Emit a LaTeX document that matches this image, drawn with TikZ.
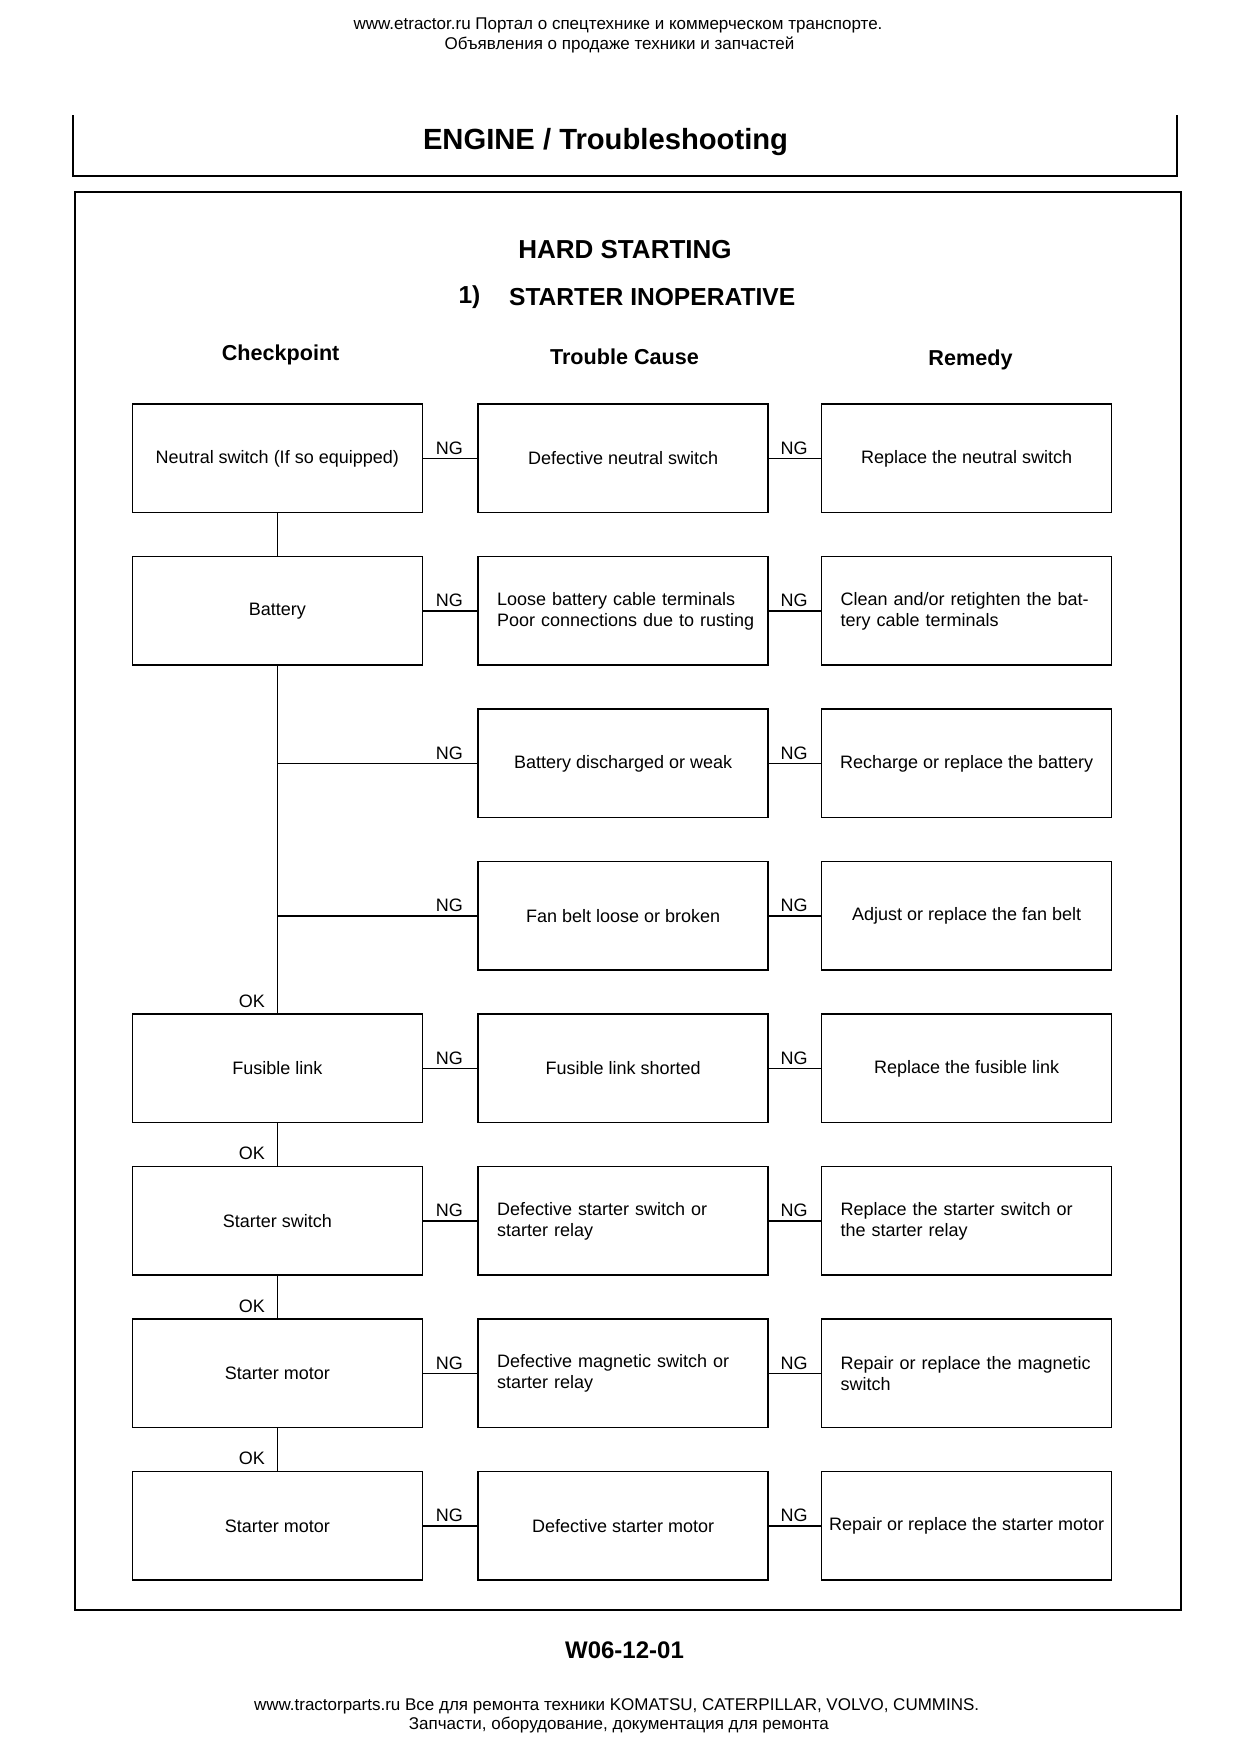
\documentclass[tikz,border=0pt]{standalone}
\usepackage{fontspec}
\setmainfont{Liberation Sans}
\begin{document}
\begin{tikzpicture}[x=0.5pt,y=-0.5pt,
  box/.style={draw, line width=0.7pt, minimum width=145pt, minimum height=54.25pt, inner sep=0pt, align=center, font=\fontsize{9}{10.5}\selectfont},
  boxl/.style={box, align=left, text width=126pt},
  lab/.style={font=\fontsize{9}{10.5}\selectfont, inner sep=0pt, anchor=base},
  oklab/.style={font=\fontsize{9}{10.5}\selectfont, inner sep=0pt, anchor=base east},
  conn/.style={line width=0.7pt},
  frame/.style={line width=1pt},
  hdr/.style={font=\fontsize{8.5}{9.5}\selectfont, align=center, inner sep=0pt},
  colhead/.style={font=\bfseries\fontsize{10.8}{12}\selectfont, inner sep=0pt}
]
\fill[white] (0,0) rectangle (1240,1753);
\useasboundingbox (0,0) rectangle (1240,1753);

% page header / footer
\node[hdr] (top1) at (618,25.7) {www.etractor.ru Портал о спецтехнике и коммерческом транспорте.};
\node[hdr] (top2) at (619.5,44.7) {Объявления о продаже техники и запчастей};
\node[hdr] (bot1) at (616.6,1706.2) {www.tractorparts.ru Все для ремонта техники KOMATSU, CATERPILLAR, VOLVO, CUMMINS.};
\node[hdr] (bot2) at (618.9,1725.2) {Запчасти, оборудование, документация для ремонта};
\node[font=\bfseries\fontsize{12}{14}\selectfont, inner sep=0pt] (code) at (624.5,1650.3) {W06-12-01};

% header box
\draw[frame] (72.7,115) -- (72.7,175.5) -- (1177.4,175.5) -- (1177.4,115);
\node[font=\bfseries\fontsize{14.6}{17}\selectfont, inner sep=0pt] (title) at (605.5,142) {ENGINE / Troubleshooting};

% main frame
\draw[frame] (75,192.3) rectangle (1180.7,1610);
\node[font=\bfseries\fontsize{13}{15}\selectfont, inner sep=0pt] (hs) at (625,249.3) {HARD STARTING};
\node[font=\bfseries\fontsize{12.3}{14}\selectfont, inner sep=0pt, anchor=east] (num) at (480.8,297.5) {1)};
\node[font=\bfseries\fontsize{12.3}{14}\selectfont, inner sep=0pt, anchor=west] (si) at (508.7,297.5) {STARTER INOPERATIVE};

\node[colhead] (h1) at (280.6,354.5) {Checkpoint};
\node[colhead] (h2) at (624.5,356.5) {Trouble Cause};
\node[colhead] (h3) at (970.5,359.5) {Remedy};

% column 1
\node[box] (b1) at (277.3,458.4) {Neutral switch (If so equipped)};
\node[box] (b2) at (277.3,610.9) {Battery};
\node[box] (b5) at (277.3,1068.4) {Fusible link};
\node[box] (b6) at (277.3,1220.9) {Starter switch};
\node[box] (b7) at (277.3,1373.4) {Starter motor};
\node[box] (b8) at (277.3,1525.9) {Starter motor};

% column 2
\node[box] (c1) at (623.1,458.4) {Defective neutral switch};
\node[boxl] (c2) at (623.1,610.9) {\mbox{Loose battery cable terminals}\\\mbox{Poor connections due to rusting}};
\node[box] (c3) at (623.1,763.4) {Battery discharged or weak};
\node[box] (c4) at (623.1,915.9) {Fan belt loose or broken};
\node[box] (c5) at (623.1,1068.4) {Fusible link shorted};
\node[boxl] (c6) at (623.1,1220.9) {\mbox{Defective starter switch or}\\\mbox{starter relay}};
\node[boxl] (c7) at (623.1,1373.4) {\mbox{Defective magnetic switch or}\\\mbox{starter relay}};
\node[box] (c8) at (623.1,1525.9) {Defective starter motor};

% column 3
\node[box] (r1) at (966.6,458.4) {Replace the neutral switch};
\node[boxl] (r2) at (966.6,610.9) {\mbox{Clean and/or retighten the bat-}\\\mbox{tery cable terminals}};
\node[box] (r3) at (966.6,763.4) {Recharge or replace the battery};
\node[box] (r4) at (966.6,915.9) {Adjust or replace the fan belt};
\node[box] (r5) at (966.6,1068.4) {Replace the fusible link};
\node[boxl] (r6) at (966.6,1220.9) {\mbox{Replace the starter switch or}\\\mbox{the starter relay}};
\node[boxl] (r7) at (966.6,1373.4) {\mbox{Repair or replace the magnetic}\\\mbox{switch}};
\node[box] (r8) at (966.6,1525.9) {Repair or replace the starter motor};

% trunk
\draw[conn] (b1.south) -- (b2.north);
\draw[conn] (b2.south) -- (b5.north);
\draw[conn] (b5.south) -- (b6.north);
\draw[conn] (b6.south) -- (b7.north);
\draw[conn] (b7.south) -- (b8.north);

% NG connectors
\foreach \i in {1,2,5,6,7,8} {
  \draw[conn] (b\i.east) -- (c\i.west);
}
\foreach \i in {3,4} {
  \draw[conn] (c\i.west -| b2.south) -- (c\i.west);
}
\foreach \i in {1,...,8} {
  \draw[conn] (c\i.east) -- (r\i.west);
  \node[lab] at ([xshift=-14pt,yshift=2pt]c\i.west) {NG};
  \node[lab] at ([xshift=-13.4pt,yshift=2pt]r\i.west) {NG};
}

% OK labels
\foreach \i in {5,6,7,8} {
  \node[oklab] at ([xshift=-6pt,yshift=3pt]b\i.north) {OK};
}
\end{tikzpicture}
\end{document}
